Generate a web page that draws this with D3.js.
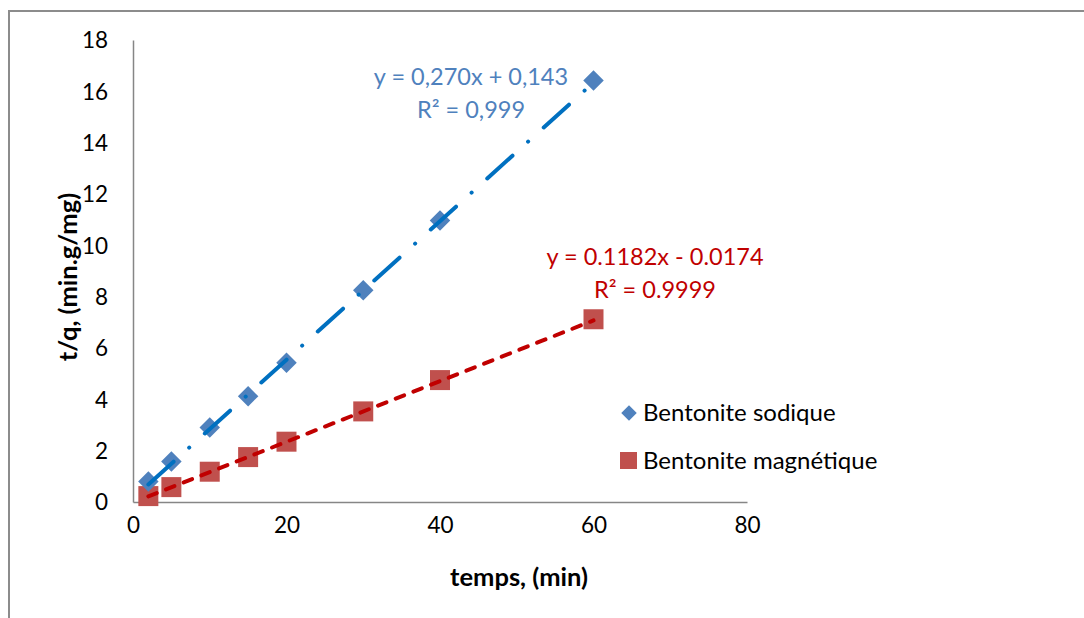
<!DOCTYPE html>
<html><head><meta charset="utf-8">
<script src="https://cdn.jsdelivr.net/npm/d3@7"></script>
<style>body{margin:0;background:#fff;} svg{display:block;font-family:Lato,"Open Sans",sans-serif;}</style>
</head><body>
<svg id="c" width="1084" height="618"></svg>
<script>
const times = [2, 5, 10, 15, 20, 30, 40, 60];
const sodique = [0.80, 1.58, 2.90, 4.12, 5.43, 8.25, 10.97, 16.42];
const magnetique = [0.23, 0.58, 1.18, 1.75, 2.35, 3.53, 4.75, 7.12];
const xTicks = [0, 20, 40, 60, 80];
const yTicks = [0, 2, 4, 6, 8, 10, 12, 14, 16, 18];
const seriesNames = ["Bentonite sodique", "Bentonite magnétique"];
const fitSodique = {a: 0.270, b: 0.143, eq: "y = 0,270x + 0,143", r2: "R² = 0,999"};
const fitMagnetique = {a: 0.1182, b: -0.0174, eq: "y = 0.1182x - 0.0174", r2: "R² = 0.9999"};

const svg = d3.select("#c");
svg.append("path").attr("d","M9,618 V11 H1084").attr("fill","none").attr("stroke","#8c8c8c").attr("stroke-width",2);

const x = d3.scaleLinear().domain([0,80]).range([133,747]);
const y = d3.scaleLinear().domain([0,18]).range([502,40]);

const xa = svg.append("g").attr("transform","translate(0,502)").call(d3.axisBottom(x).tickValues(xTicks).tickSize(0).tickPadding(26));
const ya = svg.append("g").attr("transform","translate(133,0)").call(d3.axisLeft(y).tickValues(yTicks).tickSize(0).tickPadding(25));
[xa,ya].forEach(g=>{
  g.select(".domain").attr("stroke","#868686").attr("stroke-width",1.5);
  g.selectAll("text").attr("font-size",22.5).attr("fill","#000").attr("font-family","Lato");
});
xa.selectAll("text").attr("dy","0.2em");
ya.selectAll("text").attr("dy","0.35em");

svg.append("text").attr("x",519).attr("y",586).attr("text-anchor","middle").attr("font-size",25.5).attr("font-weight","bold").text("temps, (min)");
svg.append("text").attr("transform","translate(77,277) rotate(-90)").attr("text-anchor","middle").attr("font-size",25.5).attr("font-weight","bold").text("t/q, (min.g/mg)");

const xr = [times[0], times[times.length-1]];
function trend(fit, color, dash){
  svg.append("line")
    .attr("x1",x(xr[0])).attr("y1",y(fit.a*xr[0]+fit.b))
    .attr("x2",x(xr[1])).attr("y2",y(fit.a*xr[1]+fit.b))
    .attr("stroke",color).attr("stroke-width",4).attr("stroke-linecap","round")
    .attr("stroke-dasharray",dash);
}

svg.append("g").selectAll("path").data(times).join("path")
  .attr("transform",(d,i)=>`translate(${x(d)},${y(magnetique[i])})`)
  .attr("d",d3.symbol().type(d3.symbolSquare).size(400)())
  .attr("fill","#C0504D");
trend(fitMagnetique,"#C00000","9 10");
svg.append("g").selectAll("path").data(times).join("path")
  .attr("transform",(d,i)=>`translate(${x(d)},${y(sodique[i])}) rotate(45)`)
  .attr("d",d3.symbol().type(d3.symbolSquare).size(210)())
  .attr("fill","#4F81BD");
trend(fitSodique,"#0070C0","34 21 0.1 21");

function eq(fit, cx, cy, color){
  const t = svg.append("text").attr("text-anchor","middle").attr("font-size",23.5).attr("fill",color);
  t.append("tspan").attr("x",cx).attr("y",cy).text(fit.eq);
  t.append("tspan").attr("x",cx).attr("y",cy+33).text(fit.r2);
}
eq(fitSodique, 471, 85, "#4F81BD");
eq(fitMagnetique, 655, 265, "#C00000");

const lg = svg.append("g");
lg.append("path").attr("transform","translate(629,413) rotate(45)").attr("d",d3.symbol().type(d3.symbolSquare).size(120)()).attr("fill","#4F81BD");
lg.append("rect").attr("x",620).attr("y",452).attr("width",17).attr("height",17).attr("fill","#C0504D");
lg.append("text").attr("x",643).attr("y",421).attr("font-size",24).text(seriesNames[0]);
lg.append("text").attr("x",643).attr("y",469).attr("font-size",24).text(seriesNames[1]);
</script>
</body></html>
